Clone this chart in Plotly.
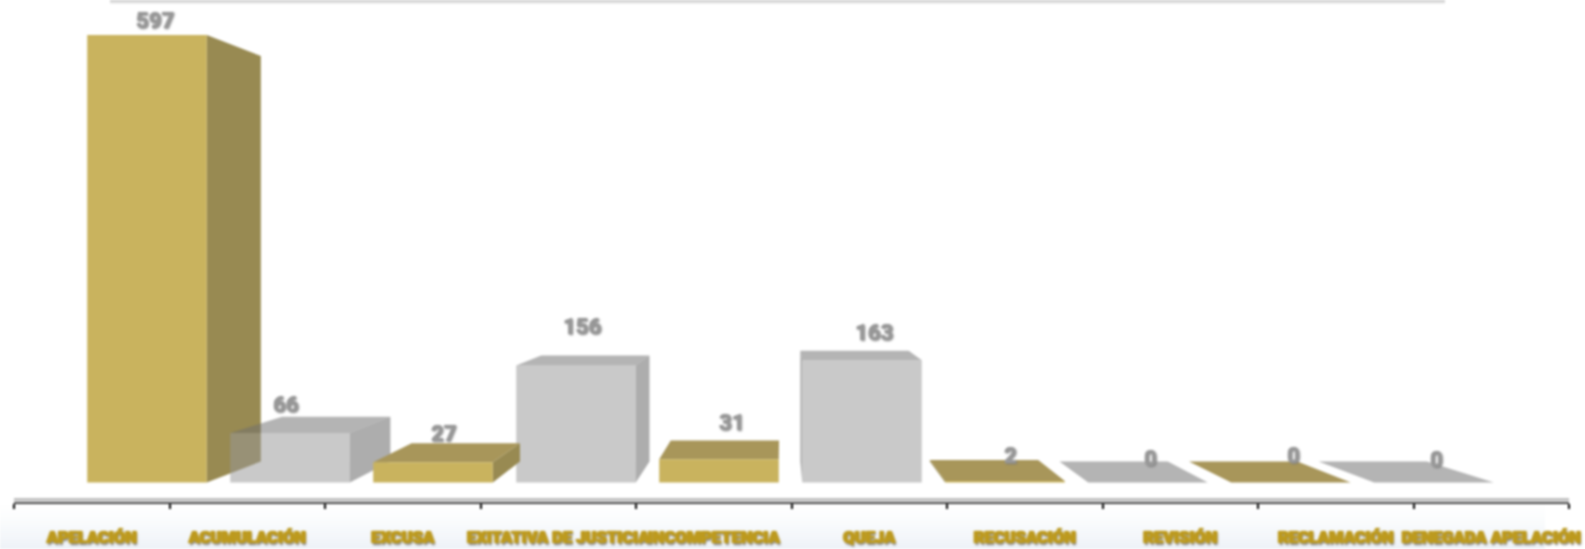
import plotly.graph_objects as go

CATEGORIES = ["APELACIÓN", "ACUMULACIÓN", "EXCUSA", "EXITATIVA DE JUSTICIA", "INCOMPETENCIA",
              "QUEJA", "RECUSACIÓN", "REVISIÓN", "RECLAMACIÓN", "DENEGADA APELACIÓN"]
VALUES = [597, 66, 27, 156, 31, 163, 2, 0, 0, 0]

# Perspective of the box drawing, in axis units
VP_X, VP_Y, DEPTH, HALF = 4.44, 298.6, 0.906, 0.418

W, H = 1585, 549
ML, MR, MT, MB = 14, 16, 0, 47
PH = H - MT - MB
PW = W - ML - MR

GOLD = dict(front="#C9B35E", side="#988A52", top="#A8965A")
GRAY = dict(front="rgba(152,152,152,0.52)", side="rgba(97,97,97,0.52)", top="rgba(112,112,112,0.52)")

LABEL_DX = [8, -4, 11, 6, 13, 12, 5, 2, 2, 2]
LABEL_DY = [15, 29, 28.5, 38.7, 36.6, 28, 26, 24.5, 27.5, 23.5]


def back(x, y):
    return VP_X + (x - VP_X) * DEPTH, VP_Y + (y - VP_Y) * DEPTH


def poly(pts, color):
    xs = [p[0] for p in pts] + [pts[0][0]]
    ys = [p[1] for p in pts] + [pts[0][1]]
    return go.Scatter(x=xs, y=ys, xaxis="x2", yaxis="y", mode="lines", fill="toself",
                      fillcolor=color, line=dict(width=0), hoverinfo="skip", showlegend=False)


fig = go.Figure()
# Category axis anchor trace
fig.add_trace(go.Scatter(x=CATEGORIES, y=VALUES, mode="markers", marker=dict(opacity=0),
                         hoverinfo="skip", showlegend=False))

golds = [i for i in range(len(VALUES)) if i % 2 == 0]
grays = [i for i in range(len(VALUES)) if i % 2 == 1]
for i in [golds[0]] + grays + golds[1:]:
    v = VALUES[i]
    style = GOLD if i % 2 == 0 else GRAY
    l, r = i - HALF, i + HALF
    if r < VP_X:
        fig.add_trace(poly([(r, 0), (r, v), back(r, v), back(r, 0)], style["side"]))
    if l > VP_X and v > 0:
        fig.add_trace(poly([(l, 0), (l, v), back(l, v), back(l, 0)], style["side"]))
    if v < VP_Y:  # the top is only seen when it lies below eye level
        fig.add_trace(poly([(l, v), (r, v), back(r, v), back(l, v)], style["top"]))
    if v > 0:
        fig.add_trace(poly([(l, 0), (r, 0), (r, v), (l, v)], style["front"]))

shapes = []
# Soft bottom backdrop
for k in range(22):
    y0 = 505 + k * 2
    t = ((k + 1) / 22) ** 1.4
    c = (255 - 17 * t, 255 - 12 * t, 255 - 7 * t)
    shapes.append(dict(type="rect", layer="below", xref="paper", yref="paper",
                       x0=-ML / PW, x1=(1545 - ML) / PW,
                       y0=(PH - y0) / PH, y1=(PH - y0 - 2) / PH,
                       line=dict(width=0), fillcolor="rgb(%d,%d,%d)" % c))
# Shadow of the panel cut off at the top
for y, col in [(0.5, "#CBCBCB"), (1.5, "#D6D6D6"), (2.5, "#E4E4E4"), (3.5, "#F2F2F2")]:
    shapes.append(dict(type="line", layer="below", xref="paper", yref="paper",
                       x0=(110 - ML) / PW, x1=(1445 - ML) / PW,
                       y0=(PH - y) / PH, y1=(PH - y) / PH,
                       line=dict(width=1, color=col)))
# Soft highlight over the axis line
shapes.append(dict(type="line", layer="below", xref="paper", yref="paper", x0=0, x1=1,
                   y0=2.5 / PH, y1=2.5 / PH, line=dict(width=2.5, color="#B4B4B4")))

annotations = [dict(x=i, y=VALUES[i], xref="x2", yref="y", text=str(VALUES[i]), showarrow=False,
                    xshift=LABEL_DX[i], yshift=LABEL_DY[i], xanchor="center", yanchor="middle",
                    font=dict(family="Roboto", size=22, color="#989898", weight=900,
                              shadow="0 0 1px #989898, 1px 1px 2px #7A7A7A"))
               for i in range(len(VALUES))]

fig.update_layout(
    width=W, height=H,
    margin=dict(l=ML, r=MR, t=MT, b=MB, autoexpand=False),
    paper_bgcolor="white", plot_bgcolor="rgba(0,0,0,0)",
    showlegend=False,
    shapes=shapes, annotations=annotations,
    xaxis=dict(type="category", categoryorder="array", categoryarray=CATEGORIES,
               range=[-0.5, 9.5], tickson="boundaries", ticks="outside", ticklen=5, tickwidth=2,
               tickcolor="#000000", showline=True, linecolor="#444444", linewidth=2, showgrid=False,
               zeroline=False, tickangle=0, ticklabelstandoff=19, ticklabeloverflow="allow",
               tickmode="array", tickvals=CATEGORIES, ticktext=CATEGORIES,
               tickfont=dict(family="Roboto", size=16.5, color="#BD9A1E", weight=900,
                             shadow="0 0 1px #BD9A1E, 1px 0 1px #BD9A1E, -1px 0 1px #BD9A1E, 1px 2px 2px #777777")),
    xaxis2=dict(overlaying="x", range=[-0.93, 9.944], visible=False),
    yaxis=dict(range=[-26, 643.7], visible=False),
)

fig.write_html("out.html", config=dict(displayModeBar=False), post_script=(
    "document.body.style.margin='0';"
    "document.querySelector('.plot-container').style.filter='blur(0.9px)';"))
